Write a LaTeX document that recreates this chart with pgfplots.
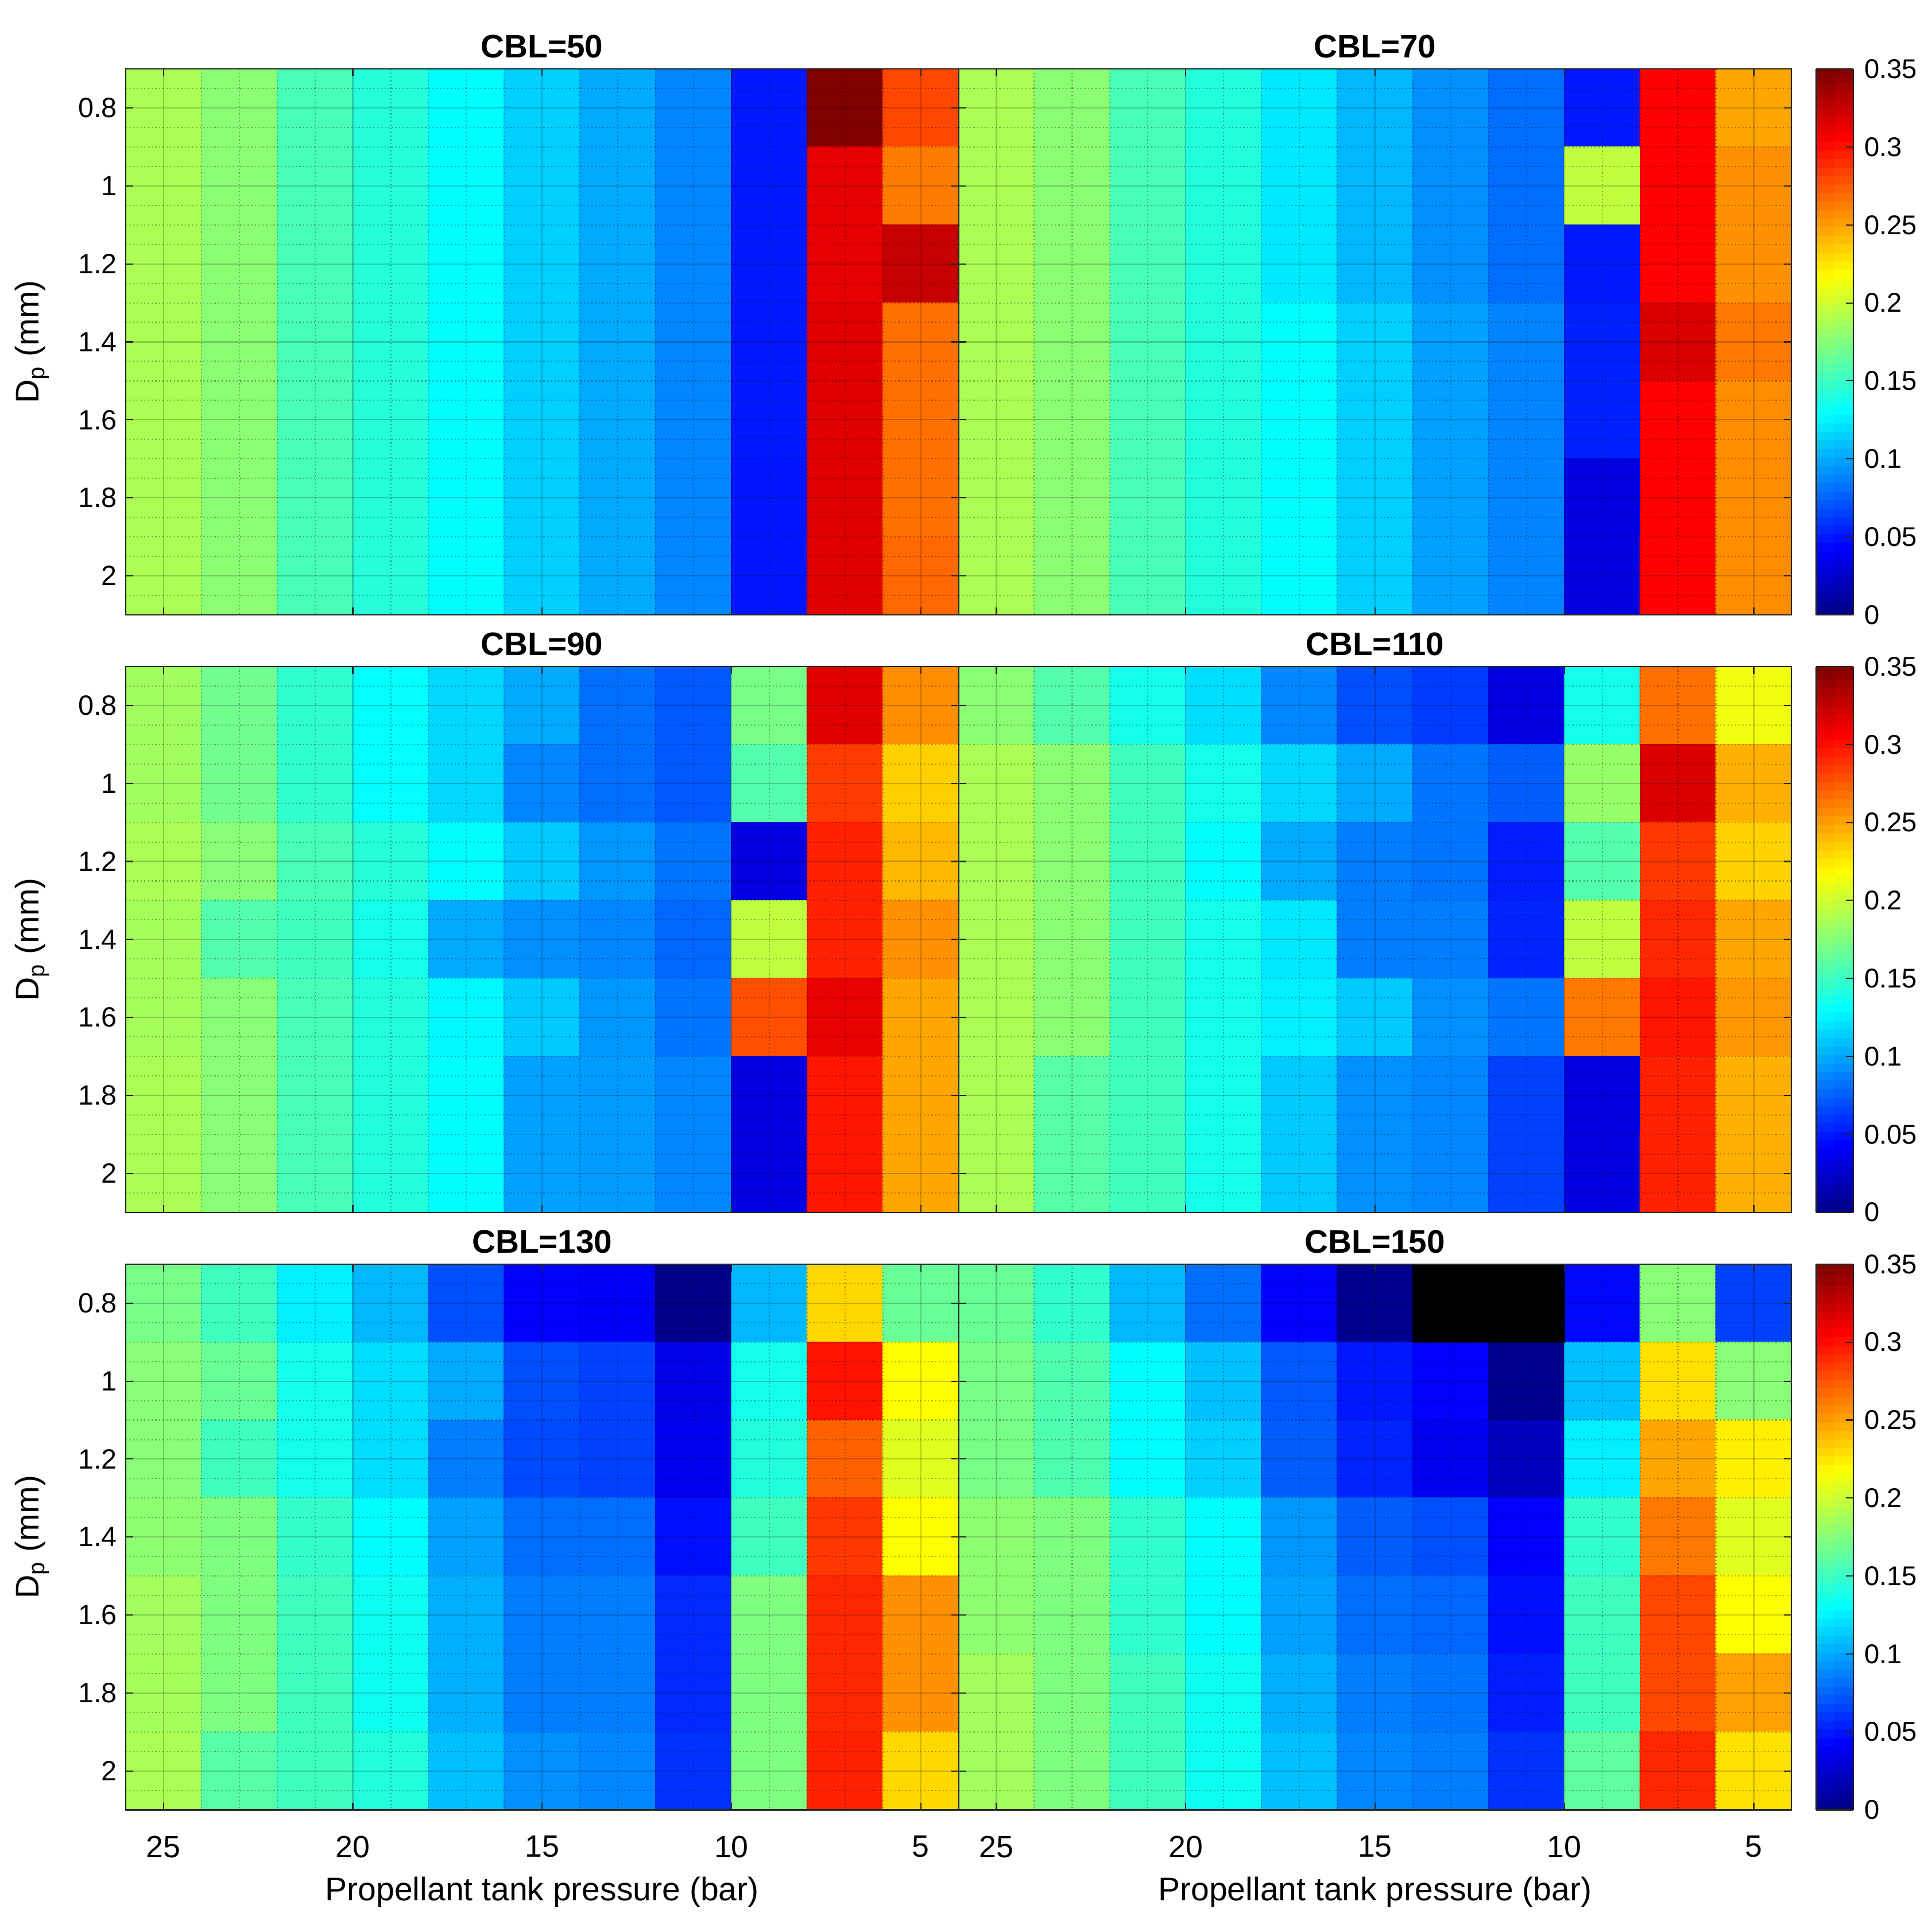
\documentclass[border=0pt]{standalone}
\usepackage{fontspec}
\setmainfont{Liberation Sans}
\usepackage{pgfplots}
\pgfplotsset{compat=1.18}
\usepgfplotslibrary{groupplots}

\pgfplotsset{
  every axis title/.style={at={(0.5,1)}, anchor=base, yshift=4.5pt,
    font=\fontsize{13.2}{15}\selectfont\bfseries},
  heat/.style={
    scale only axis, width=338pt, height=221.5pt,
    xmin=4, xmax=26, ymin=0.7, ymax=2.1,
    x dir=reverse, y dir=reverse,
    xtick={5,10,15,20,25}, xticklabels={},
    ytick={0.8,1,1.2,1.4,1.6,1.8,2}, yticklabels={},
    minor xtick={6,7,8,9,11,12,13,14,16,17,18,19,21,22,23,24},
    minor ytick={0.75,0.85,0.9,0.95,1.05,1.1,1.15,1.25,1.3,1.35,1.45,1.5,1.55,1.65,1.7,1.75,1.85,1.9,1.95,2.05},
    grid=both, axis on top,
    major grid style={draw=black, opacity=0.2, line width=0.5pt},
    minor grid style={draw=black, opacity=0.3, line width=0.5pt, dash pattern=on 0.5pt off 1pt},
    major tick length=3pt, minor tick length=0pt, tick align=inside,
    tick style={color=black!85, line width=0.5pt},
    axis line style={color=black!85, line width=0.5pt},
    colormap/jet, point meta min=0, point meta max=0.35,
    yticklabel style={font=\fontsize{11.3}{13}\selectfont},
    xticklabel style={font=\fontsize{12.5}{14}\selectfont},
    xticklabel shift=7pt,
    label style={font=\fontsize{13.3}{15}\selectfont},
    ylabel shift=5pt, xlabel shift=1pt,
  },
  ylab/.style={yticklabels={0.8,1,1.2,1.4,1.6,1.8,2}, ylabel={D\textsubscript{p} (mm)}},
  xlab/.style={xticklabels={5,10,15,20,25}, xlabel={Propellant tank pressure (bar)}},
  cbar/.style={colorbar sampled, colorbar style={
    samples=65, x dir=normal, y dir=normal,
    at={(parent axis.north east)}, anchor=north west, xshift=1.5pt,
    width=15pt,
    ytick={0,0.05,0.1,0.15,0.2,0.25,0.3,0.35},
    yticklabels={0,0.05,0.1,0.15,0.2,0.25,0.3,0.35},
    ytick pos=right, yticklabel pos=right, tick align=inside,
    major tick length=3pt,
    tick style={color=black!85, line width=0.5pt},
    axis line style={color=black!85, line width=0.5pt},
    yticklabel style={font=\fontsize{11}{13}\selectfont},
    yticklabel shift=1pt,
  }},
  cells/.style={matrix plot*, mesh/cols=11, point meta=explicit},
}

\begin{document}
\begin{tikzpicture}
\begin{groupplot}[group style={group size=2 by 3, horizontal sep=0pt, vertical sep=21pt}, heat]

\nextgroupplot[ylab, title={CBL=50}]
\addplot[cells] coordinates {
(25,0.8) [0.190] (23,0.8) [0.179] (21,0.8) [0.156] (19,0.8) [0.144] (17,0.8) [0.131] (15,0.8) [0.115] (13,0.8) [0.102] (11,0.8) [0.090] (9,0.8) [0.052] (7,0.8) [0.350] (5,0.8) [0.282]
(25,1.0) [0.190] (23,1.0) [0.179] (21,1.0) [0.156] (19,1.0) [0.144] (17,1.0) [0.131] (15,1.0) [0.115] (13,1.0) [0.102] (11,1.0) [0.090] (9,1.0) [0.052] (7,1.0) [0.315] (5,1.0) [0.264]
(25,1.2) [0.190] (23,1.2) [0.179] (21,1.2) [0.156] (19,1.2) [0.144] (17,1.2) [0.131] (15,1.2) [0.115] (13,1.2) [0.102] (11,1.2) [0.090] (9,1.2) [0.052] (7,1.2) [0.315] (5,1.2) [0.326]
(25,1.4) [0.190] (23,1.4) [0.179] (21,1.4) [0.156] (19,1.4) [0.144] (17,1.4) [0.131] (15,1.4) [0.115] (13,1.4) [0.102] (11,1.4) [0.090] (9,1.4) [0.052] (7,1.4) [0.317] (5,1.4) [0.268]
(25,1.6) [0.190] (23,1.6) [0.179] (21,1.6) [0.156] (19,1.6) [0.144] (17,1.6) [0.131] (15,1.6) [0.115] (13,1.6) [0.102] (11,1.6) [0.090] (9,1.6) [0.052] (7,1.6) [0.317] (5,1.6) [0.268]
(25,1.8) [0.190] (23,1.8) [0.179] (21,1.8) [0.156] (19,1.8) [0.144] (17,1.8) [0.131] (15,1.8) [0.115] (13,1.8) [0.102] (11,1.8) [0.090] (9,1.8) [0.051] (7,1.8) [0.317] (5,1.8) [0.268]
(25,2.0) [0.190] (23,2.0) [0.179] (21,2.0) [0.156] (19,2.0) [0.144] (17,2.0) [0.131] (15,2.0) [0.115] (13,2.0) [0.102] (11,2.0) [0.090] (9,2.0) [0.051] (7,2.0) [0.317] (5,2.0) [0.271]
};

\nextgroupplot[cbar, title={CBL=70}]
\addplot[cells] coordinates {
(25,0.8) [0.190] (23,0.8) [0.179] (21,0.8) [0.156] (19,0.8) [0.143] (17,0.8) [0.124] (15,0.8) [0.107] (13,0.8) [0.093] (11,0.8) [0.082] (9,0.8) [0.052] (7,0.8) [0.306] (5,0.8) [0.249]
(25,1.0) [0.190] (23,1.0) [0.179] (21,1.0) [0.156] (19,1.0) [0.143] (17,1.0) [0.124] (15,1.0) [0.107] (13,1.0) [0.093] (11,1.0) [0.082] (9,1.0) [0.197] (7,1.0) [0.306] (5,1.0) [0.257]
(25,1.2) [0.190] (23,1.2) [0.179] (21,1.2) [0.156] (19,1.2) [0.143] (17,1.2) [0.124] (15,1.2) [0.107] (13,1.2) [0.093] (11,1.2) [0.082] (9,1.2) [0.052] (7,1.2) [0.306] (5,1.2) [0.257]
(25,1.4) [0.190] (23,1.4) [0.179] (21,1.4) [0.156] (19,1.4) [0.143] (17,1.4) [0.131] (15,1.4) [0.115] (13,1.4) [0.099] (11,1.4) [0.089] (9,1.4) [0.055] (7,1.4) [0.319] (5,1.4) [0.265]
(25,1.6) [0.190] (23,1.6) [0.179] (21,1.6) [0.156] (19,1.6) [0.143] (17,1.6) [0.131] (15,1.6) [0.115] (13,1.6) [0.099] (11,1.6) [0.089] (9,1.6) [0.055] (7,1.6) [0.306] (5,1.6) [0.258]
(25,1.8) [0.190] (23,1.8) [0.179] (21,1.8) [0.156] (19,1.8) [0.143] (17,1.8) [0.131] (15,1.8) [0.115] (13,1.8) [0.099] (11,1.8) [0.089] (9,1.8) [0.033] (7,1.8) [0.306] (5,1.8) [0.258]
(25,2.0) [0.190] (23,2.0) [0.179] (21,2.0) [0.156] (19,2.0) [0.143] (17,2.0) [0.131] (15,2.0) [0.115] (13,2.0) [0.099] (11,2.0) [0.089] (9,2.0) [0.033] (7,2.0) [0.306] (5,2.0) [0.258]
};

\nextgroupplot[ylab, title={CBL=90}]
\addplot[cells] coordinates {
(25,0.8) [0.186] (23,0.8) [0.170] (21,0.8) [0.148] (19,0.8) [0.132] (17,0.8) [0.118] (15,0.8) [0.102] (13,0.8) [0.082] (11,0.8) [0.074] (9,0.8) [0.172] (7,0.8) [0.317] (5,0.8) [0.258]
(25,1.0) [0.186] (23,1.0) [0.170] (21,1.0) [0.148] (19,1.0) [0.132] (17,1.0) [0.118] (15,1.0) [0.090] (13,1.0) [0.082] (11,1.0) [0.074] (9,1.0) [0.160] (7,1.0) [0.286] (5,1.0) [0.235]
(25,1.2) [0.190] (23,1.2) [0.178] (21,1.2) [0.156] (19,1.2) [0.144] (17,1.2) [0.131] (15,1.2) [0.113] (13,1.2) [0.096] (11,1.2) [0.084] (9,1.2) [0.033] (7,1.2) [0.295] (5,1.2) [0.243]
(25,1.4) [0.188] (23,1.4) [0.160] (21,1.4) [0.153] (19,1.4) [0.138] (17,1.4) [0.102] (15,1.4) [0.093] (13,1.4) [0.090] (11,1.4) [0.079] (9,1.4) [0.197] (7,1.4) [0.295] (5,1.4) [0.257]
(25,1.6) [0.188] (23,1.6) [0.178] (21,1.6) [0.156] (19,1.6) [0.143] (17,1.6) [0.129] (15,1.6) [0.113] (13,1.6) [0.096] (11,1.6) [0.084] (9,1.6) [0.279] (7,1.6) [0.314] (5,1.6) [0.249]
(25,1.8) [0.190] (23,1.8) [0.178] (21,1.8) [0.156] (19,1.8) [0.143] (17,1.8) [0.131] (15,1.8) [0.099] (13,1.8) [0.097] (11,1.8) [0.090] (9,1.8) [0.033] (7,1.8) [0.299] (5,1.8) [0.249]
(25,2.0) [0.190] (23,2.0) [0.178] (21,2.0) [0.156] (19,2.0) [0.143] (17,2.0) [0.131] (15,2.0) [0.099] (13,2.0) [0.097] (11,2.0) [0.090] (9,2.0) [0.033] (7,2.0) [0.299] (5,2.0) [0.249]
};

\nextgroupplot[cbar, title={CBL=110}]
\addplot[cells] coordinates {
(25,0.8) [0.179] (23,0.8) [0.160] (21,0.8) [0.138] (19,0.8) [0.120] (17,0.8) [0.090] (15,0.8) [0.071] (13,0.8) [0.064] (11,0.8) [0.033] (9,0.8) [0.138] (7,0.8) [0.268] (5,0.8) [0.214]
(25,1.0) [0.190] (23,1.0) [0.179] (21,1.0) [0.153] (19,1.0) [0.138] (17,1.0) [0.118] (15,1.0) [0.102] (13,1.0) [0.084] (11,1.0) [0.076] (9,1.0) [0.183] (7,1.0) [0.319] (5,1.0) [0.246]
(25,1.2) [0.190] (23,1.2) [0.179] (21,1.2) [0.153] (19,1.2) [0.131] (17,1.2) [0.102] (15,1.2) [0.087] (13,1.2) [0.084] (11,1.2) [0.054] (9,1.2) [0.160] (7,1.2) [0.287] (5,1.2) [0.234]
(25,1.4) [0.190] (23,1.4) [0.179] (21,1.4) [0.153] (19,1.4) [0.138] (17,1.4) [0.124] (15,1.4) [0.087] (13,1.4) [0.087] (11,1.4) [0.056] (9,1.4) [0.197] (7,1.4) [0.293] (5,1.4) [0.249]
(25,1.6) [0.190] (23,1.6) [0.179] (21,1.6) [0.153] (19,1.6) [0.138] (17,1.6) [0.126] (15,1.6) [0.113] (13,1.6) [0.093] (11,1.6) [0.084] (9,1.6) [0.265] (7,1.6) [0.299] (5,1.6) [0.254]
(25,1.8) [0.190] (23,1.8) [0.161] (21,1.8) [0.153] (19,1.8) [0.138] (17,1.8) [0.113] (15,1.8) [0.093] (13,1.8) [0.090] (11,1.8) [0.066] (9,1.8) [0.033] (7,1.8) [0.295] (5,1.8) [0.246]
(25,2.0) [0.190] (23,2.0) [0.161] (21,2.0) [0.153] (19,2.0) [0.138] (17,2.0) [0.113] (15,2.0) [0.093] (13,2.0) [0.090] (11,2.0) [0.066] (9,2.0) [0.033] (7,2.0) [0.295] (5,2.0) [0.246]
};

\nextgroupplot[ylab, xlab, title={CBL=130}]
\addplot[cells] coordinates {
(25,0.8) [0.172] (23,0.8) [0.153] (21,0.8) [0.126] (19,0.8) [0.107] (17,0.8) [0.071] (15,0.8) [0.044] (13,0.8) [0.042] (11,0.8) [0.003] (9,0.8) [0.107] (7,0.8) [0.232] (5,0.8) [0.167]
(25,1.0) [0.178] (23,1.0) [0.167] (21,1.0) [0.138] (19,1.0) [0.120] (17,1.0) [0.102] (15,1.0) [0.071] (13,1.0) [0.066] (11,1.0) [0.036] (9,1.0) [0.138] (7,1.0) [0.300] (5,1.0) [0.219]
(25,1.2) [0.178] (23,1.2) [0.153] (21,1.2) [0.138] (19,1.2) [0.120] (17,1.2) [0.087] (15,1.2) [0.069] (13,1.2) [0.066] (11,1.2) [0.039] (9,1.2) [0.143] (7,1.2) [0.273] (5,1.2) [0.208]
(25,1.4) [0.180] (23,1.4) [0.175] (21,1.4) [0.149] (19,1.4) [0.131] (17,1.4) [0.099] (15,1.4) [0.082] (13,1.4) [0.082] (11,1.4) [0.049] (9,1.4) [0.153] (7,1.4) [0.287] (5,1.4) [0.219]
(25,1.6) [0.187] (23,1.6) [0.175] (21,1.6) [0.153] (19,1.6) [0.136] (17,1.6) [0.104] (15,1.6) [0.087] (13,1.6) [0.087] (11,1.6) [0.058] (9,1.6) [0.175] (7,1.6) [0.293] (5,1.6) [0.257]
(25,1.8) [0.188] (23,1.8) [0.175] (21,1.8) [0.153] (19,1.8) [0.136] (17,1.8) [0.104] (15,1.8) [0.087] (13,1.8) [0.087] (11,1.8) [0.058] (9,1.8) [0.175] (7,1.8) [0.293] (5,1.8) [0.257]
(25,2.0) [0.190] (23,2.0) [0.161] (21,2.0) [0.153] (19,2.0) [0.143] (17,2.0) [0.110] (15,2.0) [0.093] (13,2.0) [0.090] (11,2.0) [0.061] (9,2.0) [0.175] (7,2.0) [0.295] (5,2.0) [0.232]
};

\nextgroupplot[xlab, cbar, title={CBL=150}]
\addplot[cells] coordinates {
(25,0.8) [0.167] (23,0.8) [0.148] (21,0.8) [0.107] (19,0.8) [0.082] (17,0.8) [0.044] (15,0.8) [0.005] (13,0.8) [0.000] (11,0.8) [0.000] (9,0.8) [0.046] (7,0.8) [0.178] (5,0.8) [0.066]
(25,1.0) [0.172] (23,1.0) [0.158] (21,1.0) [0.131] (19,1.0) [0.110] (17,1.0) [0.074] (15,1.0) [0.052] (13,1.0) [0.044] (11,1.0) [0.005] (9,1.0) [0.110] (7,1.0) [0.229] (5,1.0) [0.178]
(25,1.2) [0.172] (23,1.2) [0.158] (21,1.2) [0.131] (19,1.2) [0.115] (17,1.2) [0.076] (15,1.2) [0.056] (13,1.2) [0.039] (11,1.2) [0.022] (9,1.2) [0.126] (7,1.2) [0.249] (5,1.2) [0.224]
(25,1.4) [0.180] (23,1.4) [0.175] (21,1.4) [0.148] (19,1.4) [0.131] (17,1.4) [0.096] (15,1.4) [0.076] (13,1.4) [0.071] (11,1.4) [0.044] (9,1.4) [0.148] (7,1.4) [0.265] (5,1.4) [0.208]
(25,1.6) [0.180] (23,1.6) [0.175] (21,1.6) [0.148] (19,1.6) [0.131] (17,1.6) [0.099] (15,1.6) [0.082] (13,1.6) [0.079] (11,1.6) [0.049] (9,1.6) [0.153] (7,1.6) [0.282] (5,1.6) [0.219]
(25,1.8) [0.187] (23,1.8) [0.175] (21,1.8) [0.153] (19,1.8) [0.136] (17,1.8) [0.104] (15,1.8) [0.087] (13,1.8) [0.084] (11,1.8) [0.054] (9,1.8) [0.153] (7,1.8) [0.282] (5,1.8) [0.251]
(25,2.0) [0.187] (23,2.0) [0.175] (21,2.0) [0.153] (19,2.0) [0.136] (17,2.0) [0.110] (15,2.0) [0.090] (13,2.0) [0.087] (11,2.0) [0.061] (9,2.0) [0.164] (7,2.0) [0.293] (5,2.0) [0.229]
};
% the two cells with no value are black
\addplot[matrix plot*, mesh/cols=2, mesh/color input=explicit, point meta=explicit symbolic]
  coordinates {(13,0.75) [color=black] (11,0.75) [color=black] (13,0.85) [color=black] (11,0.85) [color=black]};
\end{groupplot}
\pgfresetboundingbox
\path[use as bounding box] ([shift={(-51pt,28pt)}]group c1r1.north west) rectangle ([shift={(733pt,-753pt)}]group c1r1.north west);
\end{tikzpicture}
\end{document}
